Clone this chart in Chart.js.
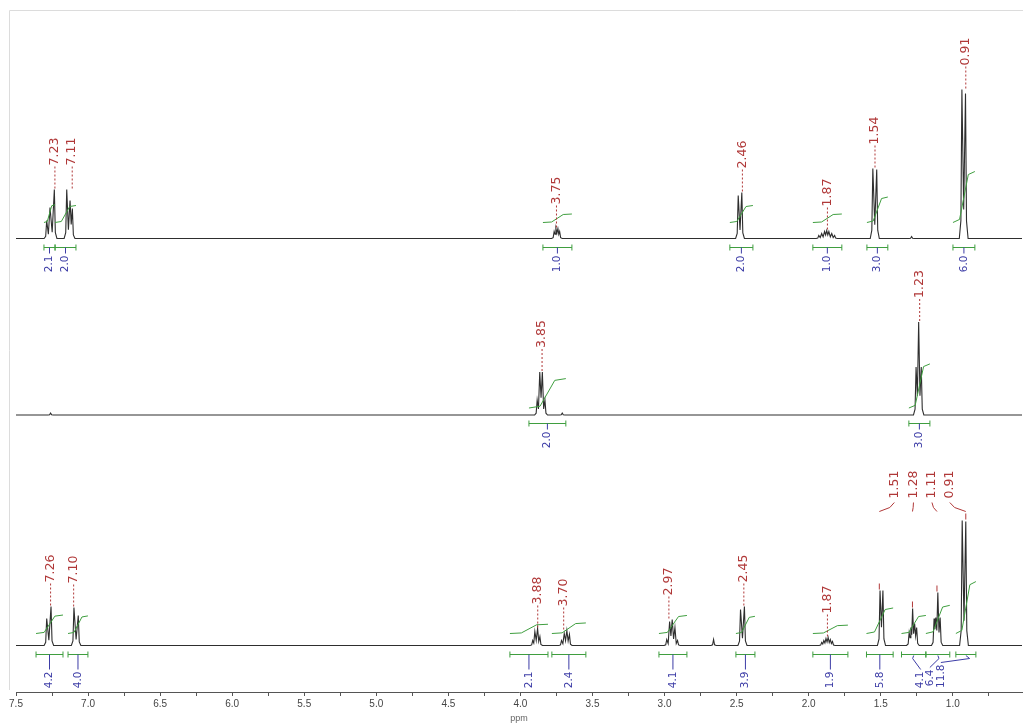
<!DOCTYPE html>
<html>
<head>
<script src="https://cdn.jsdelivr.net/npm/chart.js@4.4.0/dist/chart.umd.min.js"></script>
<style>
  html, body { margin: 0; padding: 0; background: #fff; }
</style>
</head>
<body>
<canvas id="nmrChart" width="1023" height="724"></canvas>
<script>
// ---- data ----
const majorTicks = [7.5, 7.0, 6.5, 6.0, 5.5, 5.0, 4.5, 4.0, 3.5, 3.0, 2.5, 2.0, 1.5, 1.0];
const minorTicks = [7.25, 6.75, 6.25, 5.75, 5.25, 4.75, 4.25, 3.75, 3.25, 2.75, 2.25, 1.75, 1.25, 0.75];

// peak lines [ppm, intensity]
const topLines = [
  [7.287, 18], [7.264, 31], [7.234, 49],
  [7.148, 49], [7.125, 38], [7.109, 30],
  [3.766, 7], [3.754, 10], [3.740, 10], [3.728, 7],
  [2.489, 43], [2.464, 46],
  [1.930, 3], [1.910, 5], [1.890, 7], [1.875, 8], [1.860, 7], [1.840, 5], [1.820, 3],
  [1.555, 70], [1.528, 69],
  [1.286, 2],
  [0.937, 149], [0.912, 145]
];
const midLines = [
  [7.26, 2],
  [3.884, 15], [3.866, 43], [3.848, 43], [3.830, 15],
  [3.71, 2],
  [1.255, 48], [1.237, 93], [1.219, 48]
];
const botLines = [
  [7.287, 27], [7.257, 39],
  [7.098, 38], [7.068, 30],
  [3.915, 5], [3.900, 14], [3.881, 17], [3.865, 9],
  [3.715, 5], [3.696, 12], [3.678, 15], [3.660, 11],
  [2.985, 6], [2.965, 24], [2.947, 26], [2.928, 18], [2.910, 5],
  [2.66, 6],
  [2.473, 36], [2.446, 39],
  [1.910, 3], [1.895, 5], [1.880, 7], [1.865, 8], [1.850, 6], [1.835, 4],
  [1.505, 55], [1.485, 55],
  [1.303, 13], [1.291, 18], [1.279, 37], [1.265, 22], [1.251, 18],
  [1.130, 27], [1.118, 28], [1.104, 53], [1.088, 28],
  [0.935, 125], [0.910, 124]
];

// peak picks (ppm)
const topPicks = [7.23, 7.11, 3.75, 2.46, 1.87, 1.54, 0.91];
const midPicks = [3.85, 1.23];
const botPicks = [7.26, 7.10, 3.88, 3.70, 2.97, 2.45, 1.87];
const botCluster = [1.51, 1.28, 1.11, 0.91];

// integrals [from ppm, to ppm, value]
const topIntegrals = [[7.306, 7.229, 2.1], [7.229, 7.084, 2.0], [3.844, 3.643, 1.0], [2.547, 2.387, 2.0],
  [1.971, 1.770, 1.0], [1.596, 1.451, 3.0], [0.999, 0.847, 6.0]];
const midIntegrals = [[3.941, 3.685, 2.0], [1.305, 1.159, 3.0]];
const botIntegrals = [[7.361, 7.174, 4.2], [7.139, 7.001, 4.0], [4.073, 3.809, 2.1], [3.782, 3.546, 2.4],
  [3.039, 2.845, 4.1], [2.505, 2.373, 3.9], [1.971, 1.728, 1.9], [1.599, 1.414, 5.8],
  [1.356, 1.187, 4.1], [1.187, 1.021, 6.4], [0.979, 0.840, 11.8]];

// ---- layout / style ----
const X_MIN = 0.52, X_MAX = 7.5;
const RED = '#b03838', BLUE = '#3c3ca6', GREEN = '#3f9e3f', TRACE = '#2e2e2e';

const spectra = [
  { lines: topLines, offset: 453.5, picks: topPicks, integrals: topIntegrals, intBase: 16, intScale: 8.5, numGap: 8 },
  { lines: midLines, offset: 277, picks: midPicks, integrals: midIntegrals, intBase: 7, intScale: 14.7, numGap: 8 },
  { lines: botLines, offset: 46.5, picks: botPicks, integrals: botIntegrals, intBase: 12, intScale: 4.4, numGap: 17,
    cluster: botCluster, clusterShift: [15, 1, -5, -16],
    numShift: { 8: 7, 9: -8, 10: -25 }, numLift: { 9: 2, 10: 7 } }
];

function buildTrace(lines, off) {
  const s = lines.slice().sort((a, b) => b[0] - a[0]);
  const pts = [{ x: X_MAX, y: off }];
  const GAP = 0.035, FOOT = 0.018, SH = 0.007;
  for (let i = 0; i < s.length; i++) {
    const [p, h] = s[i];
    const prev = s[i - 1], next = s[i + 1];
    if (!prev || prev[0] - p > GAP) {
      pts.push({ x: p + FOOT, y: off });
      pts.push({ x: p + SH, y: off + 0.12 * h });
    }
    pts.push({ x: p, y: off + h });
    if (next && p - next[0] <= GAP) {
      const sep = p - next[0];
      const f = Math.max(0.2, 1 - sep / 0.03);
      pts.push({ x: (p + next[0]) / 2, y: off + f * Math.min(h, next[1]) });
    } else {
      pts.push({ x: p - SH, y: off + 0.12 * h });
      pts.push({ x: p - FOOT, y: off });
    }
  }
  pts.push({ x: X_MIN, y: off });
  return pts;
}

function integralCurve(it, sp) {
  const [a, b, v] = it;
  const y0 = sp.offset + sp.intBase, r = v * sp.intScale;
  const w = a - b;
  return [
    { x: a, y: y0 },
    { x: a - 0.3 * w, y: y0 + 0.06 * r },
    { x: a - 0.7 * w, y: y0 + 0.94 * r },
    { x: b, y: y0 + r }
  ];
}

const datasets = [];
spectra.forEach(sp => {
  datasets.push({ data: buildTrace(sp.lines, sp.offset), borderColor: TRACE, borderWidth: 1.1, order: 2 });
  sp.integrals.forEach(it => {
    datasets.push({ data: integralCurve(it, sp), borderColor: GREEN, borderWidth: 1, order: 1 });
  });
});

function peakTop(lines, v) {
  let h = 0;
  lines.forEach(l => { if (Math.abs(l[0] - v) < 0.045) h = Math.max(h, l[1]); });
  return h;
}

const annot = {
  id: 'annot',
  afterDatasetsDraw(chart) {
    const { ctx, scales: { x, y } } = chart;
    ctx.save();
    // light frame
    ctx.strokeStyle = '#dcdcdc';
    ctx.lineWidth = 1;
    ctx.beginPath();
    ctx.moveTo(9.5, 690); ctx.lineTo(9.5, 10.5); ctx.lineTo(1023, 10.5);
    ctx.stroke();

    spectra.forEach(sp => {
      const base = y.getPixelForValue(sp.offset);
      // integral brackets + values
      sp.integrals.forEach((it, i) => {
        const x1 = x.getPixelForValue(it[0]), x2 = x.getPixelForValue(it[1]);
        const by = Math.round(base + 8) + 0.5;
        ctx.strokeStyle = GREEN; ctx.lineWidth = 1; ctx.setLineDash([]);
        ctx.beginPath();
        ctx.moveTo(x1, by); ctx.lineTo(x2, by);
        ctx.moveTo(x1, by - 3); ctx.lineTo(x1, by + 3);
        ctx.moveTo(x2, by - 3); ctx.lineTo(x2, by + 3);
        ctx.stroke();
        const cx = (x1 + x2) / 2;
        const shift = (sp.numShift && sp.numShift[i]) || 0;
        const lift = (sp.numLift && sp.numLift[i]) || 0;
        const lx = cx + shift;
        const ty = by + sp.numGap - lift;
        ctx.strokeStyle = BLUE;
        ctx.beginPath();
        if (shift) {
          ctx.moveTo(cx, by + 1); ctx.lineTo(cx - shift * 0.15, by + 4); ctx.lineTo(lx, ty - 2);
        } else {
          ctx.moveTo(cx, by); ctx.lineTo(cx, ty - 2);
        }
        ctx.stroke();
        ctx.save();
        ctx.translate(lx, ty);
        ctx.rotate(-Math.PI / 2);
        ctx.fillStyle = BLUE;
        ctx.font = '10.5px "DejaVu Sans"';
        ctx.textAlign = 'right'; ctx.textBaseline = 'middle';
        ctx.fillText(it[2].toFixed(1), 0, 0);
        ctx.restore();
      });

      // peak picks
      ctx.font = '12.5px "DejaVu Sans"';
      sp.picks.forEach(v => {
        const px = x.getPixelForValue(v);
        const top = y.getPixelForValue(sp.offset + peakTop(sp.lines, v));
        const tb = top - 23;
        ctx.strokeStyle = RED; ctx.setLineDash([2, 2]);
        ctx.beginPath(); ctx.moveTo(px, top - 1); ctx.lineTo(px, tb); ctx.stroke();
        ctx.setLineDash([]);
        ctx.save();
        ctx.translate(px, tb);
        ctx.rotate(-Math.PI / 2);
        ctx.fillStyle = RED; ctx.textAlign = 'left'; ctx.textBaseline = 'middle';
        ctx.fillText(v.toFixed(2), 1, 0);
        ctx.restore();
      });

      // crowded picks with bent leaders
      if (sp.cluster) {
        const tb = base - 146;
        sp.cluster.forEach((v, i) => {
          const px = x.getPixelForValue(v);
          const lx = px + sp.clusterShift[i];
          const top = y.getPixelForValue(sp.offset + peakTop(sp.lines, v));
          ctx.strokeStyle = RED; ctx.setLineDash([]);
          ctx.beginPath();
          ctx.moveTo(lx, tb + 3); ctx.lineTo(lx - (lx - px) * 0.3, tb + 8); ctx.lineTo(px, tb + 12);
          ctx.stroke();
          if (top > tb + 20) {
            ctx.beginPath(); ctx.moveTo(px, top - 7); ctx.lineTo(px, top - 1); ctx.stroke();
          } else {
            ctx.beginPath(); ctx.moveTo(px, tb + 12); ctx.lineTo(px, top); ctx.stroke();
          }
          ctx.save();
          ctx.translate(lx, tb);
          ctx.rotate(-Math.PI / 2);
          ctx.fillStyle = RED; ctx.textAlign = 'left'; ctx.textBaseline = 'middle';
          ctx.fillText(v.toFixed(2), 1, 0);
          ctx.restore();
        });
      }
    });
    ctx.restore();
  }
};

const allTicks = majorTicks.concat(minorTicks).sort((a, b) => b - a);

new Chart(document.getElementById('nmrChart'), {
  type: 'line',
  data: { datasets: datasets },
  options: {
    responsive: false,
    animation: false,
    parsing: false,
    normalized: true,
    layout: { padding: { left: 16, right: 1, top: 10, bottom: 0 } },
    elements: { point: { radius: 0 }, line: { tension: 0 } },
    plugins: { legend: { display: false }, tooltip: { enabled: false } },
    scales: {
      x: {
        type: 'linear',
        min: X_MIN, max: X_MAX,
        reverse: true,
        afterBuildTicks: s => { s.ticks = allTicks.map(v => ({ value: v })); },
        afterFit: s => { s.height = 32; },
        border: { display: true, color: '#555', width: 1 },
        grid: { drawOnChartArea: false, drawTicks: true, tickLength: 4, color: '#555' },
        ticks: {
          autoSkip: false, maxRotation: 0, padding: 2,
          color: '#444',
          font: { family: 'Liberation Sans', size: 10 },
          callback: v => majorTicks.includes(v) ? v.toFixed(1) : ''
        },
        title: { display: true, text: 'ppm', color: '#666', font: { family: 'Liberation Sans', size: 9 }, padding: { top: 0, bottom: 0 } }
      },
      y: { type: 'linear', display: false, min: 0, max: 682 }
    }
  },
  plugins: [annot]
});
</script>
</body>
</html>
